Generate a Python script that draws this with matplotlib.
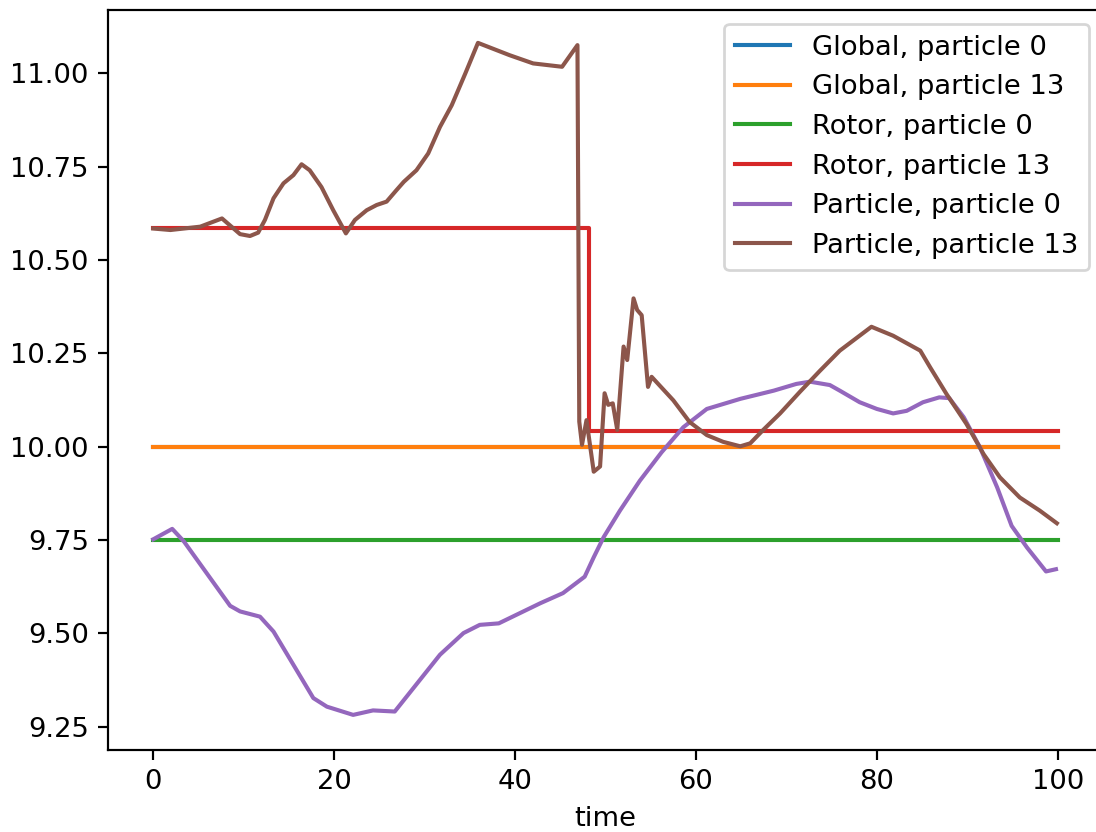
import matplotlib
matplotlib.use("Agg")
import matplotlib.pyplot as plt

# Constant reference levels
t_span = [0, 100]
global_p0 = [10.0, 10.0]
global_p13 = [10.0, 10.0]
rotor_p0 = [9.75, 9.75]

# Rotor frame value for particle 13 (switches at t ~ 48)
rotor_p13_t = [0, 48.2, 48.2, 100]
rotor_p13_v = [10.585, 10.585, 10.042, 10.042]

# Particle frame, particle 0
part_p0_t = [0, 2.1, 3.4, 8.5, 9.6, 11.8, 13.3, 17.7, 19.2, 22.1, 24.3, 26.7,
             31.7, 34.3, 36.1, 38.2, 42.8, 45.3, 47.7, 48.7, 49.8, 51.6, 53.8,
             56.2, 58.6, 61.2, 64.9, 68.6, 71.1, 72.6, 74.8, 75.9, 78.1, 80.0,
             81.8, 83.3, 85.1, 86.9, 88.0, 89.6, 91.4, 93.3, 94.9, 96.6, 98.7,
             99.8]
part_p0_v = [9.752, 9.780, 9.746, 9.574, 9.559, 9.545, 9.505, 9.327, 9.304,
             9.282, 9.294, 9.291, 9.443, 9.501, 9.523, 9.527, 9.581, 9.608,
             9.652, 9.704, 9.758, 9.829, 9.909, 9.985, 10.052, 10.101, 10.128,
             10.150, 10.168, 10.174, 10.165, 10.150, 10.119, 10.101, 10.089,
             10.096, 10.119, 10.132, 10.130, 10.079, 9.998, 9.891, 9.788,
             9.730, 9.666, 9.672]

# Particle frame, particle 13
part_p13_t = [0, 1.9, 5.2, 7.6, 9.6, 10.7, 11.6, 12.35, 13.3, 14.4, 15.5,
              16.4, 17.3, 18.6, 19.9, 21.3, 22.3, 23.6, 24.7, 25.8, 26.9,
              27.7, 29.1, 30.4, 31.7, 33.0, 34.5, 35.9, 39.4, 42.0, 45.2, 46.9,
              47.1, 47.4, 47.9, 48.7, 49.4, 49.9, 50.3, 50.8, 51.3, 52.0, 52.4,
              53.1, 53.5, 54.0, 54.7, 55.1, 57.5, 59.3, 61.2, 63.0, 64.9, 66.0,
              67.4, 69.3, 71.5, 73.7, 75.9, 79.4, 81.8, 84.8, 85.9, 87.7, 89.9,
              91.8, 93.6, 95.8, 98.0, 99.9]
part_p13_v = [10.584, 10.580, 10.589, 10.611, 10.569, 10.564, 10.573, 10.607,
              10.665, 10.705, 10.727, 10.756, 10.740, 10.695, 10.633, 10.571,
              10.607, 10.633, 10.647, 10.656, 10.687, 10.709, 10.740, 10.785,
              10.856, 10.914, 10.999, 11.081, 11.048, 11.026, 11.017, 11.075,
              10.067, 10.005, 10.071, 9.933, 9.947, 10.143, 10.112, 10.116,
              10.045, 10.268, 10.232, 10.397, 10.366, 10.352, 10.160, 10.187,
              10.124, 10.066, 10.031, 10.013, 10.001, 10.009, 10.044, 10.089,
              10.147, 10.203, 10.257, 10.321, 10.297, 10.257, 10.212, 10.141,
              10.061, 9.980, 9.918, 9.864, 9.829, 9.795]

DPI = 197
fig = plt.figure(figsize=(1096 / DPI, 832 / DPI), dpi=DPI)
ax = fig.add_axes([108 / 1096, 82 / 832, 995 / 1096, 740 / 832])

ax.plot(t_span, global_p0, label="Global, particle 0")
ax.plot(t_span, global_p13, label="Global, particle 13")
ax.plot(t_span, rotor_p0, label="Rotor, particle 0")
ax.plot(rotor_p13_t, rotor_p13_v, label="Rotor, particle 13")
ax.plot(part_p0_t, part_p0_v, label="Particle, particle 0")
ax.plot(part_p13_t, part_p13_v, label="Particle, particle 13")

ax.set_xlim(-5, 105)
ax.set_ylim(9.188, 11.169)
ax.set_yticks([9.25, 9.50, 9.75, 10.00, 10.25, 10.50, 10.75, 11.00])
ax.set_xlabel("time")
ax.legend(loc="upper right")

fig.savefig("out.png", dpi=DPI)
